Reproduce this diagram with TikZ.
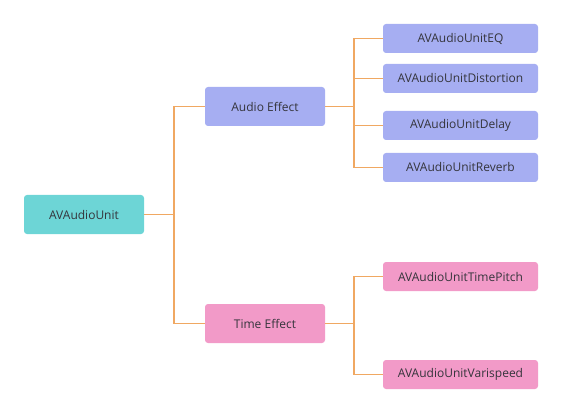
\documentclass[tikz,border=0pt]{standalone}
\usepackage{fontspec}
\setmainfont{Open Sans}
\definecolor{teal1}{HTML}{6DD5D6}
\definecolor{blue1}{HTML}{A6AEF2}
\definecolor{pink1}{HTML}{F29AC8}
\definecolor{line1}{HTML}{F0A862}
\definecolor{txt}{HTML}{35353C}
\begin{document}
\begin{tikzpicture}[x=1pt,y=-1pt,
  box/.style={rounded corners=3pt, inner sep=0pt, text=txt, font=\fontsize{12}{14}\selectfont},
  big/.style={box, minimum width=120pt, minimum height=39pt},
  small/.style={box, minimum width=155pt, minimum height=29pt},
  conn/.style={draw=line1, line width=1.7pt}]
\useasboundingbox (0,0) rectangle (562,414);
\node[big, fill=teal1] (root) at (84,214.5) {AVAudioUnit};
\node[big, fill=blue1] (ae) at (265,106.5) {Audio Effect};
\node[big, fill=pink1] (te) at (265,323.5) {Time Effect};
\node[small, fill=blue1] (eq) at (460.5,38.5) {AVAudioUnitEQ};
\node[small, fill=blue1] (dist) at (460.5,78.5) {AVAudioUnitDistortion};
\node[small, fill=blue1] (delay) at (460.5,125.5) {AVAudioUnitDelay};
\node[small, fill=blue1] (rev) at (460.5,167.5) {AVAudioUnitReverb};
\node[small, fill=pink1] (tp) at (460.5,276.5) {AVAudioUnitTimePitch};
\node[small, fill=pink1] (vs) at (460.5,374.5) {AVAudioUnitVarispeed};
\coordinate (j1) at (174,214.5);
\coordinate (j2) at (354,106.5);
\coordinate (j3) at (354,323.5);
\draw[conn] (root.east) -- (j1);
\draw[conn] (j1) |- (ae.west);
\draw[conn] (j1) |- (te.west);
\draw[conn] (ae.east) -- (j2);
\draw[conn] (j2) |- (eq.west);
\draw[conn] (j2) |- (dist.west);
\draw[conn] (j2) |- (delay.west);
\draw[conn] (j2) |- (rev.west);
\draw[conn] (te.east) -- (j3);
\draw[conn] (j3) |- (tp.west);
\draw[conn] (j3) |- (vs.west);
\end{tikzpicture}
\end{document}
